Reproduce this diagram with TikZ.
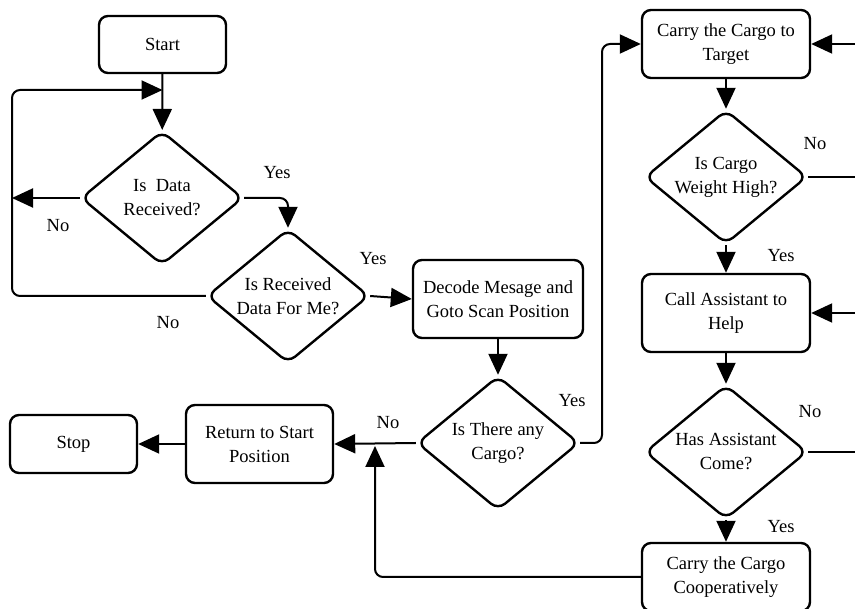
\documentclass[tikz,border=0pt]{standalone}
\usepackage{fontspec}
\setmainfont{Liberation Serif}
\usetikzlibrary{shapes.geometric,arrows.meta}
\newcommand\flowfont{\fontsize{18.5}{24}\selectfont}
\begin{document}
\begin{tikzpicture}[x=1pt,y=-1pt,
  box/.style={draw, line width=2.4pt, rounded corners=9pt, align=center, inner sep=0pt, font=\flowfont},
  dec/.style={draw, diamond, aspect=1.2, line width=2.4pt, rounded corners=9pt, align=center, inner sep=0pt,
    minimum width=162pt, minimum height=134pt, font=\flowfont},
  conn/.style={line width=2pt, rounded corners=8pt},
  arr/.style={conn, -{Triangle[length=21pt,width=19pt]}},
  lbl/.style={font=\flowfont, inner sep=0pt}]
\useasboundingbox (0,0) rectangle (855,609);

% nodes
\node[box, minimum width=127pt, minimum height=57pt] (start) at (162.5,44.5) {Start};
\node[dec] (d1) at (162,198) {Is~~Data\\Received?};
\node[dec] (d2) at (288,296) {Is Received\\Data For Me?};
\node[box, minimum width=170pt, minimum height=78pt] (decode) at (498,299) {Decode Mesage and\\Goto Scan Position};
\node[dec] (d3) at (498,443) {Is There any\\Cargo?};
\node[box, minimum width=147pt, minimum height=78pt] (ret) at (259.5,444) {Return to Start\\Position};
\node[box, minimum width=127pt, minimum height=58pt] (stop) at (73.5,444) {Stop};
\node[box, minimum width=168pt, minimum height=68pt] (carry) at (726,44) {Carry the Cargo to\\Target};
\node[dec] (d4) at (726,177) {Is Cargo\\Weight High?};
\node[box, minimum width=168pt, minimum height=78pt] (call) at (726,313) {Call Assistant to\\Help};
\node[dec] (d5) at (726,452) {Has Assistant\\Come?};
\node[box, minimum width=168pt, minimum height=68pt] (coop) at (726,577) {Carry the Cargo\\Cooperatively};

% helper coordinates
\coordinate (jn) at (162.5,90);
\coordinate (lx) at (12,90);
\coordinate (nol) at (12,198);
\coordinate (c3) at (602,443);
\coordinate (jn2) at (375,446);
\coordinate (e1) at (856,44);
\coordinate (e4) at (856,177);
\coordinate (e2) at (856,313);
\coordinate (e5) at (856,452);

% connectors
\draw[arr] (start) -- (d1);
\draw[arr] (d1.west) -- (nol);
\draw[arr] (d2.west) -| (lx) -- (jn);
\draw[arr] (d1.east) -| (d2.north);
\draw[arr] (d2.east) -- (decode.west);
\draw[arr] (decode) -- (d3);
\draw[arr] (d3.east) -- (c3) |- (carry.west);
\draw[arr] (d3.west) -- (ret.east);
\draw[arr] (ret.west) -- (stop.east);
\draw[arr] (coop.west) -| (jn2);
\draw[arr] (carry) -- (d4);
\draw[arr] (d4) -- (call);
\draw[arr] (call) -- (d5);
\draw[arr] (d5) -- (coop);
\draw[conn] (d4.east) -- (e4);
\draw[arr] (e1) -- (carry.east);
\draw[conn] (d5.east) -- (e5);
\draw[arr] (e2) -- (call.east);

% labels
\node[lbl] (l1) at (277,173) {Yes};
\node[lbl] (l2) at (58,226) {No};
\node[lbl] (l3) at (373,259) {Yes};
\node[lbl] (l4) at (168,323) {No};
\node[lbl] (l5) at (572,401) {Yes};
\node[lbl] (l6) at (388,423) {No};
\node[lbl] (l7) at (815,144) {No};
\node[lbl] (l8) at (781,256) {Yes};
\node[lbl] (l9) at (810,412) {No};
\node[lbl] (l10) at (781,527) {Yes};
\end{tikzpicture}
\end{document}
